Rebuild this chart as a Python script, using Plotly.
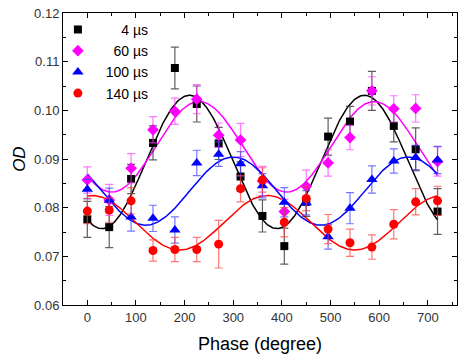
import numpy as np
import plotly.graph_objects as go

phase = [0, 45, 90, 135, 180, 225, 270, 315, 360, 405, 450, 495, 540, 585, 630, 675, 720]

od_4us = [0.0776, 0.0760, 0.0859, 0.0933, 0.1087, 0.1013, 0.0932, 0.0864, 0.0783, 0.0721,
          0.0812, 0.0946, 0.0977, 0.1040, 0.0968, 0.0920, 0.0792]
err_4us = [0.0037, 0.0042, 0.0030, 0.0035, 0.0043, 0.0037, 0.0033, 0.0030, 0.0033, 0.0037,
           0.0030, 0.0038, 0.0031, 0.0040, 0.0033, 0.0044, 0.0047]

od_60us = [0.0857, 0.0816, 0.0881, 0.0960, 0.0998, 0.1023, 0.0949, 0.0939, 0.0855, 0.0792,
           0.0844, 0.0892, 0.0944, 0.1040, 0.1003, 0.1004, 0.0895]
err_60us = [0.0027, 0.0032, 0.0030, 0.0027, 0.0027, 0.0030, 0.0025, 0.0034, 0.0030, 0.0025,
            0.0033, 0.0027, 0.0025, 0.0029, 0.0027, 0.0028, 0.0030]

od_100us = [0.0838, 0.0815, 0.0781, 0.0778, 0.0754, 0.0892, 0.0910, 0.0890, 0.0845, 0.0811,
            0.0810, 0.0740, 0.0799, 0.0858, 0.0896, 0.0903, 0.0898]
err_100us = [0.0020, 0.0025, 0.0029, 0.0027, 0.0027, 0.0026, 0.0025, 0.0025, 0.0025, 0.0030,
             0.0025, 0.0025, 0.0032, 0.0028, 0.0025, 0.0025, 0.0028]

od_140us = [0.0793, 0.0795, 0.0814, 0.0712, 0.0714, 0.0714, 0.0725, 0.0839, 0.0857, 0.0770,
            0.0819, 0.0756, 0.0728, 0.0719, 0.0766, 0.0812, 0.0814]
err_140us = [0.0026, 0.0025, 0.0027, 0.0022, 0.0025, 0.0025, 0.0049, 0.0027, 0.0025, 0.0030,
             0.0025, 0.0030, 0.0028, 0.0025, 0.0030, 0.0027, 0.0030]

labels = ["\u2007\u2007\u20074 \u00b5s", "\u2007\u200760 \u00b5s", "\u2007100 \u00b5s", "\u2007140 \u00b5s"]

# fitted sinusoid parameters: offset, amplitude, peak phase (deg), period (deg)
fit_offset = [0.0894, 0.0925, 0.0834, 0.0769]
fit_amp = [0.0137, 0.0093, 0.0070, 0.0056]
fit_peak = [210, 230, 300, 10]
fit_period = [360, 360, 360, 360]

series = [od_4us, od_60us, od_100us, od_140us]
errors = [err_4us, err_60us, err_100us, err_140us]
colors = ["#000000", "#ff00ff", "#0000ff", "#ff0000"]
err_colors = ["rgba(40,40,40,0.75)", "rgba(255,60,255,0.7)", "rgba(60,60,255,0.7)", "rgba(255,60,60,0.7)"]
symbols = ["square", "diamond", "triangle-up", "circle"]
sizes = [8, 9, 10, 9]

fig = go.Figure()
xs = np.linspace(0, 720, 400)
for i in range(4):
    ys = fit_offset[i] + fit_amp[i] * np.cos(2 * np.pi * (xs - fit_peak[i]) / fit_period[i])
    fig.add_trace(go.Scatter(x=xs, y=ys, mode="lines", line=dict(color=colors[i], width=1.5),
                             showlegend=False, hoverinfo="skip"))
for i in range(4):
    fig.add_trace(go.Scatter(
        x=phase, y=series[i], mode="markers", name=labels[i],
        marker=dict(symbol=symbols[i], size=sizes[i], color=colors[i], line=dict(width=0)),
        error_y=dict(type="data", array=errors[i], visible=True, color=err_colors[i],
                     thickness=1.2, width=4),
    ))

axis_common = dict(showline=True, linecolor="black", linewidth=1, mirror="ticks",
                   ticks="inside", ticklen=5, tickwidth=1, tickcolor="black",
                   showgrid=False, zeroline=False,
                   tickfont=dict(family="Liberation Sans, Arial", size=13, color="#333333"))

fig.update_layout(
    width=461, height=358,
    margin=dict(l=63, r=4, t=13, b=53),
    paper_bgcolor="white", plot_bgcolor="white",
    xaxis=dict(range=[-50, 760], tickvals=[0, 100, 200, 300, 400, 500, 600, 700],
               minor=dict(ticks="inside", ticklen=3, dtick=50, tick0=0, tickcolor="black"),
               **axis_common),
    yaxis=dict(range=[0.06, 0.12], dtick=0.01, tickformat=".2f",
               minor=dict(ticks="inside", ticklen=3, dtick=0.005, tickcolor="black"),
               **axis_common),
    legend=dict(x=-0.013, y=0.997, xanchor="left", yanchor="top", bgcolor="rgba(0,0,0,0)",
                font=dict(family="Liberation Sans, Arial", size=14, color="black"),
                tracegroupgap=0, itemwidth=30),
    showlegend=True,
    annotations=[
        dict(text="Phase (degree)", xref="paper", yref="paper", x=0.5, y=-0.091,
             xanchor="center", yanchor="top", showarrow=False,
             font=dict(family="Liberation Sans, Arial", size=18, color="black")),
        dict(text="<i>OD</i>", xref="paper", yref="paper", x=-0.112, y=0.5,
             xanchor="center", yanchor="middle", textangle=-90, showarrow=False,
             font=dict(family="Liberation Sans, Arial", size=17, color="black")),
    ],
)

fig.write_html("out.html")
